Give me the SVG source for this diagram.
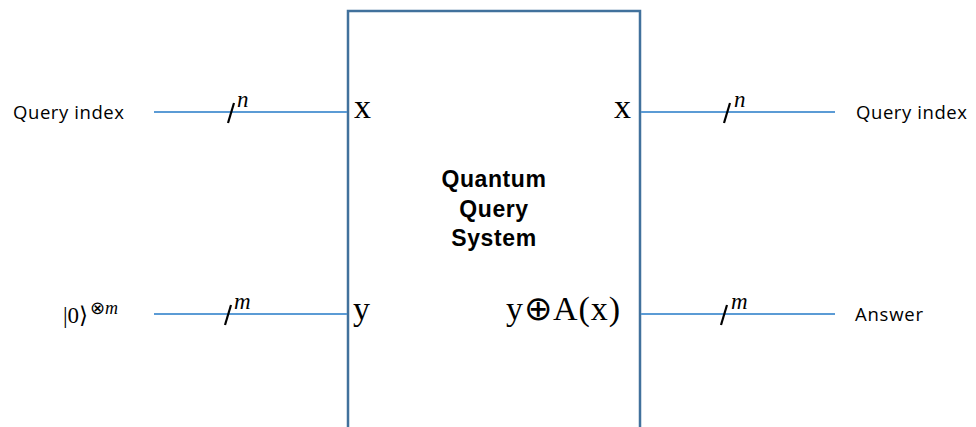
<svg xmlns="http://www.w3.org/2000/svg" width="976" height="427" viewBox="0 0 976 427">
<style>
.wire{stroke:#5B9BD5;stroke-width:2;fill:none}
.box{stroke:#41719C;stroke-width:2.5;fill:#fff}
.slash{stroke:#000;stroke-width:2.2;fill:none}
.lbl{font-family:"Open Sans","Liberation Sans",sans-serif;font-size:18.5px;fill:#000}
.math{font-family:"Liberation Serif",serif;font-size:34px;fill:#000}
.it{font-family:"Liberation Serif",serif;font-style:italic;font-size:23px;fill:#000}
.title{font-family:"Liberation Sans",sans-serif;font-weight:bold;font-size:23px;letter-spacing:0.6px;fill:#000;text-anchor:middle}
</style>
<g id="system">
<path class="box" d="M348,427 V11 H640 V427"/>
<text class="title" x="494" y="187">Quantum</text>
<text class="title" x="494" y="217">Query</text>
<text class="title" x="494" y="246">System</text>
<text class="math" x="354" y="118">x</text>
<text class="math" x="353" y="320">y</text>
<text class="math" x="614" y="118">x</text>
<text class="math" x="506" y="320" textLength="114">y⊕A(x)</text>
</g>
<g id="connectors">
<line class="wire" x1="154" y1="112" x2="347" y2="112"/>
<line class="wire" x1="154" y1="314" x2="347" y2="314"/>
<line class="wire" x1="641" y1="112" x2="835" y2="112"/>
<line class="wire" x1="641" y1="314" x2="835" y2="314"/>
<line class="slash" x1="228" y1="123" x2="234" y2="103"/>
<line class="slash" x1="225" y1="325" x2="231" y2="305"/>
<line class="slash" x1="724" y1="123" x2="730" y2="103"/>
<line class="slash" x1="721" y1="325" x2="727" y2="305"/>
<text class="it" x="237" y="107">n</text>
<text class="it" x="234" y="309">m</text>
<text class="it" x="734" y="107">n</text>
<text class="it" x="731" y="309">m</text>
</g>
<g id="in-query"><text class="lbl" x="13" y="119" textLength="111">Query index</text></g>
<g id="in-zero"><text x="63" y="323" style="font-family:'Liberation Serif',serif;font-size:23px">|0⟩<tspan dx="2" dy="-9" style="font-size:18px">⊗<tspan style="font-style:italic">m</tspan></tspan></text></g>
<g id="out-query"><text class="lbl" x="856" y="119" textLength="111">Query index</text></g>
<g id="out-answer"><text class="lbl" x="855" y="321" textLength="68">Answer</text></g>
</svg>
